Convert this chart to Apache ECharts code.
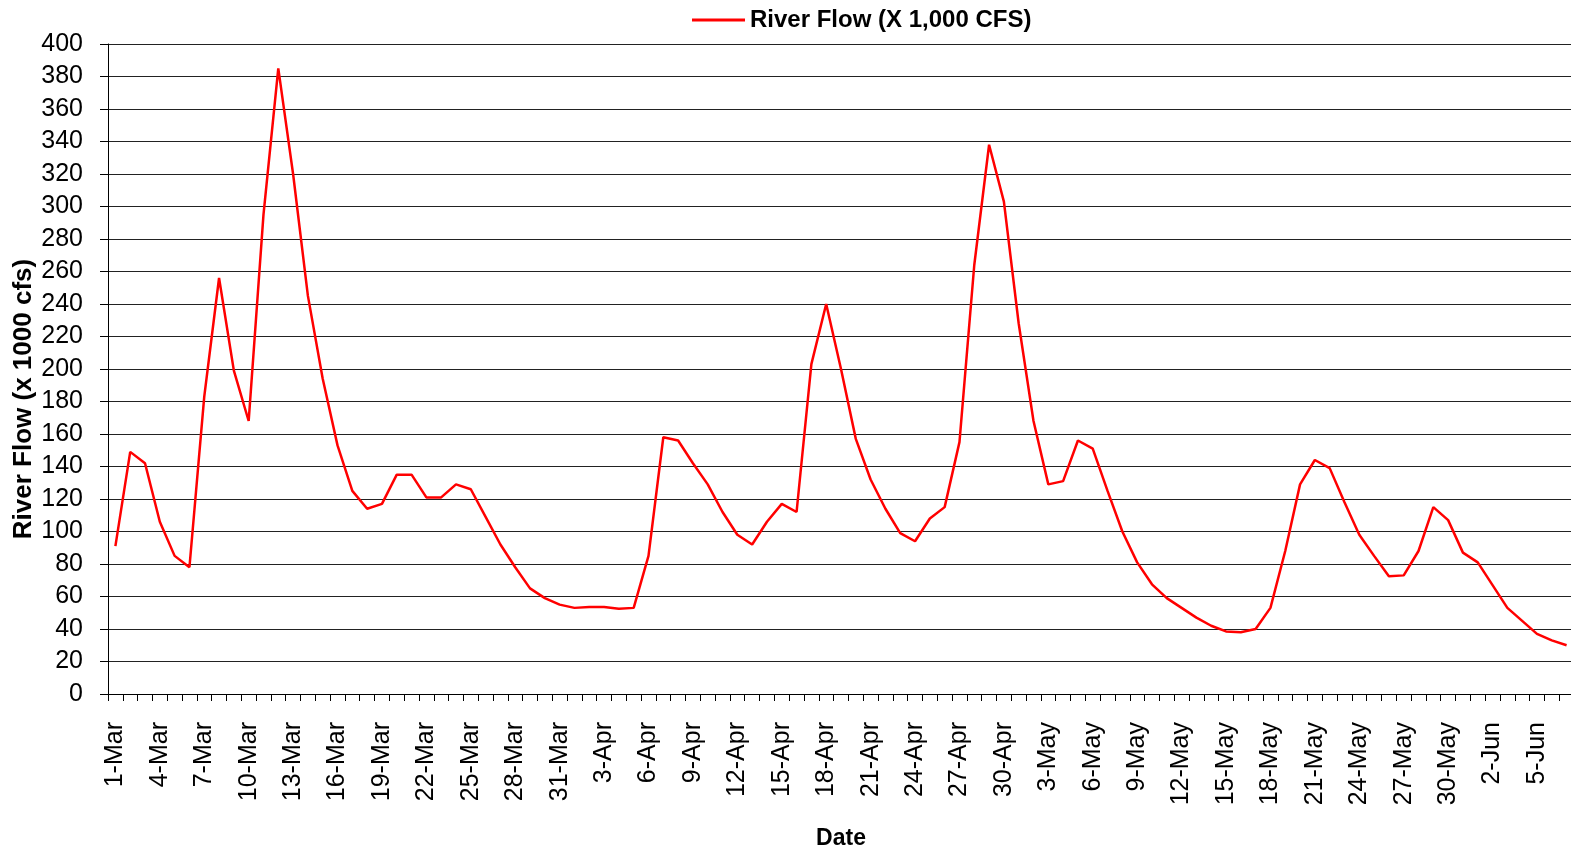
<!DOCTYPE html>
<html>
<head>
<meta charset="utf-8">
<title>River Flow</title>
<script src="https://cdn.jsdelivr.net/npm/echarts@6/dist/echarts.min.js"></script>
<style>
	html, body { margin: 0; padding: 0; background: #ffffff; }
	#chart { width: 1571px; height: 849px; }
</style>
</head>
<body>
<div id="chart"></div>
<script>
// 날짜 (1-Mar ~ 7-Jun)
var dateMar = ['1-Mar','2-Mar','3-Mar','4-Mar','5-Mar','6-Mar','7-Mar','8-Mar','9-Mar','10-Mar',
	'11-Mar','12-Mar','13-Mar','14-Mar','15-Mar','16-Mar','17-Mar','18-Mar','19-Mar','20-Mar',
	'21-Mar','22-Mar','23-Mar','24-Mar','25-Mar','26-Mar','27-Mar','28-Mar','29-Mar','30-Mar','31-Mar'];
var dateApr = ['1-Apr','2-Apr','3-Apr','4-Apr','5-Apr','6-Apr','7-Apr','8-Apr','9-Apr','10-Apr',
	'11-Apr','12-Apr','13-Apr','14-Apr','15-Apr','16-Apr','17-Apr','18-Apr','19-Apr','20-Apr',
	'21-Apr','22-Apr','23-Apr','24-Apr','25-Apr','26-Apr','27-Apr','28-Apr','29-Apr','30-Apr'];
var dateMay = ['1-May','2-May','3-May','4-May','5-May','6-May','7-May','8-May','9-May','10-May',
	'11-May','12-May','13-May','14-May','15-May','16-May','17-May','18-May','19-May','20-May',
	'21-May','22-May','23-May','24-May','25-May','26-May','27-May','28-May','29-May','30-May','31-May'];
var dateJun = ['1-Jun','2-Jun','3-Jun','4-Jun','5-Jun','6-Jun','7-Jun'];
var dates = dateMar.concat(dateApr, dateMay, dateJun);

// 유량 (x 1,000 cfs)
var flowMar = [91, 149, 142, 106, 85, 78, 183, 256, 199, 168,
	295, 385, 320, 245, 194, 153, 125, 114, 117, 135,
	135, 121, 121, 129, 126, 109, 92, 78, 65, 59, 55];
var flowApr = [53, 53.5, 53.5, 52.5, 53, 85, 158, 156, 142, 129,
	112, 98, 92, 106, 117, 112, 203, 240, 200, 157,
	132, 114, 99, 94, 108, 115, 155, 264, 338, 303];
var flowMay = [228, 168, 129, 131, 156, 151, 125, 100, 81, 67.5,
	59, 53, 47, 42, 38.5, 38, 40, 53, 88, 129,
	144, 139, 118, 98, 85, 72.5, 73, 88, 115, 107, 87];
var flowJun = [81, 67, 53, 45, 37, 33, 30];
var flow = flowMar.concat(flowApr, flowMay, flowJun);

var seriesName = 'River Flow (X 1,000 CFS)';
var xName = 'Date';
var yName = 'River Flow (x 1000 cfs)';

var chart = echarts.init(document.getElementById('chart'));

var font = '"Liberation Sans", Arial, sans-serif';

var option = {
	animation : false,
	textStyle : {
		fontFamily : font
	},
	legend : {
		left : 692,
		top : 8,
		padding : 0,
		itemWidth : 53,
		itemHeight : 3,
		itemGap : 5,
		textStyle : {
			fontFamily : font,
			fontWeight : 'bold',
			fontSize : 24,
			color : '#000'
		},
		data : [{ name : seriesName, icon : 'rect' }]
	},
	grid : {
		left : 108,
		top : 44,
		width : 1466,
		bottom : 155,
		outerBoundsMode : 'none',
		containLabel : false
	},
	xAxis : {
		type : 'category',
		data : dates,
		boundaryGap : true,
		name : xName,
		nameLocation : 'middle',
		nameGap : 133,
		nameMoveOverlap : false,
		nameTextStyle : {
			fontWeight : 'bold',
			fontSize : 23,
			color : '#000'
		},
		axisLine : {
			lineStyle : { color : '#000', width : 1 }
		},
		axisTick : {
			show : true,
			interval : 0,
			length : 7,
			lineStyle : { color : '#000' }
		},
		axisLabel : {
			interval : 2,
			rotate : 90,
			margin : 28,
			fontSize : 25,
			color : '#000'
		},
		splitLine : { show : false }
	},
	yAxis : {
		type : 'value',
		min : 0,
		max : 400,
		interval : 20,
		name : yName,
		nameLocation : 'middle',
		nameGap : 71,
		nameMoveOverlap : false,
		nameTextStyle : {
			fontWeight : 'bold',
			fontSize : 26,
			color : '#000',
			padding : [0, 60, 0, 0]
		},
		axisLine : {
			show : true,
			lineStyle : { color : '#000', width : 1 }
		},
		axisTick : {
			show : true,
			length : 8,
			lineStyle : { color : '#000' }
		},
		axisLabel : {
			margin : 25,
			fontSize : 25,
			color : '#000'
		},
		splitLine : {
			show : true,
			lineStyle : { color : '#222', width : 1 }
		}
	},
	series : [{
		name : seriesName,
		type : 'line',
		symbol : 'none',
		data : flow,
		itemStyle : { color : '#ff0000' },
		lineStyle : { color : '#ff0000', width : 2.5 }
	}]
};

chart.setOption(option);
</script>
</body>
</html>
